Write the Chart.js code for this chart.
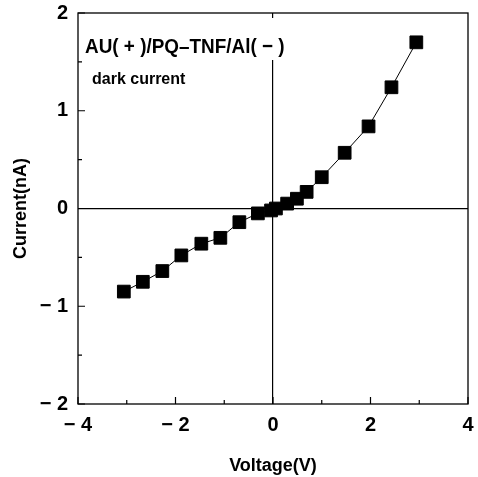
<!DOCTYPE html>
<html>
<head>
<meta charset="utf-8">
<script src="https://cdn.jsdelivr.net/npm/chart.js@4.4.1/dist/chart.umd.min.js"></script>
<style>
html,body{margin:0;padding:0;background:#fff;}
#wrap{width:478px;height:477px;}
</style>
</head>
<body>
<div id="wrap"><canvas id="ivChart" width="478" height="477"></canvas></div>
<script>
// ================= DATA =================
let voltage = [-3.06,-2.67,-2.27,-1.88,-1.47,-1.08,-0.69,-0.31,-0.04,0.06,0.29,0.49,0.69,1.0,1.47,1.96,2.43,2.94]
let current = [-0.85,-0.75,-0.64,-0.48,-0.36,-0.30,-0.14,-0.05,-0.02,0.0,0.05,0.10,0.17,0.32,0.57,0.84,1.24,1.70]
let xTicks = [-4,-2,0,2,4]
let yTicks = [-2,-1,0,1,2]
let noteLines = ["AU( + )/PQ\u2013TNF/Al( \u2212 )","dark current"]

let FONT = "'Liberation Sans',Arial,sans-serif"

function fmt(v){
return v<0 ? "\u2212 "+Math.abs(v) : String(v)
}

// 🔥 frame, inward ticks and text note
const framePlugin = {
id:"framePlugin",
afterDraw(chart){
let ctx = chart.ctx
let a = chart.chartArea
let xs = chart.scales.x
let ys = chart.scales.y
ctx.save()

// white box under the note (cuts the zero line)
ctx.fillStyle = "#fff"
ctx.fillRect(a.left+3,a.top+5,210,42)

ctx.strokeStyle = "#000"
ctx.lineWidth = 1.3
ctx.strokeRect(a.left,a.top,a.right-a.left,a.bottom-a.top)

ctx.lineWidth = 1.2
ctx.beginPath()
for(let v=-2;v<=2;v+=0.5){
let y = ys.getPixelForValue(v)
let len = Number.isInteger(v) ? 7 : 4
ctx.moveTo(a.left,y); ctx.lineTo(a.left+len,y)
}
for(let v=-4;v<=4;v+=1){
let x = xs.getPixelForValue(v)
let len = v%2===0 ? 7 : 4
ctx.moveTo(x,a.bottom); ctx.lineTo(x,a.bottom-len)
}
ctx.stroke()

ctx.fillStyle = "#000"
ctx.textBaseline = "alphabetic"
ctx.textAlign = "left"
ctx.save()
ctx.translate(85,53)
ctx.scale(0.9,1)
ctx.font = "bold 21px "+FONT
ctx.fillText(noteLines[0],0,0)
ctx.restore()
ctx.font = "bold 16px "+FONT
ctx.fillText(noteLines[1],92,84)
ctx.restore()
}
}

// ================= DRAW =================
let ctx = document.getElementById("ivChart")

new Chart(ctx,{
type:"scatter",
data:{
datasets:[{
data:voltage.map((v,i)=>({x:v,y:current[i]})),
showLine:true,
borderColor:"#000",
borderWidth:1,
backgroundColor:"#000",
pointStyle:"rect",
pointRadius:9,
pointHoverRadius:9
}]
},
options:{
responsive:false,
animation:false,
layout:{padding:{left:0,right:8,top:13,bottom:0}},
plugins:{legend:{display:false},tooltip:{enabled:false}},
scales:{
x:{
type:"linear",min:-4,max:4,
afterBuildTicks(s){ s.ticks = xTicks.map(v=>({value:v})) },
afterFit(s){ s.height = 73; s.paddingLeft = 0; s.paddingRight = 0 },
grid:{drawTicks:false,lineWidth:1.2,color:c=>c.tick && c.tick.value===0 ? "#000" : "rgba(0,0,0,0)"},
border:{display:false},
ticks:{padding:9,color:"#000",font:{family:FONT,size:20,weight:"bold"},callback:v=>fmt(v)},
title:{display:true,text:"Voltage(V)",color:"#000",font:{family:FONT,size:18,weight:"bold"},padding:{top:2,bottom:0}}
},
y:{
type:"linear",min:-2,max:2,
afterBuildTicks(s){ s.ticks = yTicks.map(v=>({value:v})) },
afterFit(s){ s.width = 78; s.paddingTop = 0; s.paddingBottom = 0 },
grid:{drawTicks:false,lineWidth:1.2,color:c=>c.tick && c.tick.value===0 ? "#000" : "rgba(0,0,0,0)"},
border:{display:false},
ticks:{padding:10,color:"#000",font:{family:FONT,size:20,weight:"bold"},callback:v=>fmt(v)},
title:{display:true,text:"Current(nA)",color:"#000",font:{family:FONT,size:18,weight:"bold"},padding:{top:10,bottom:0}}
}
}
},
plugins:[framePlugin]
})
</script>
</body>
</html>
